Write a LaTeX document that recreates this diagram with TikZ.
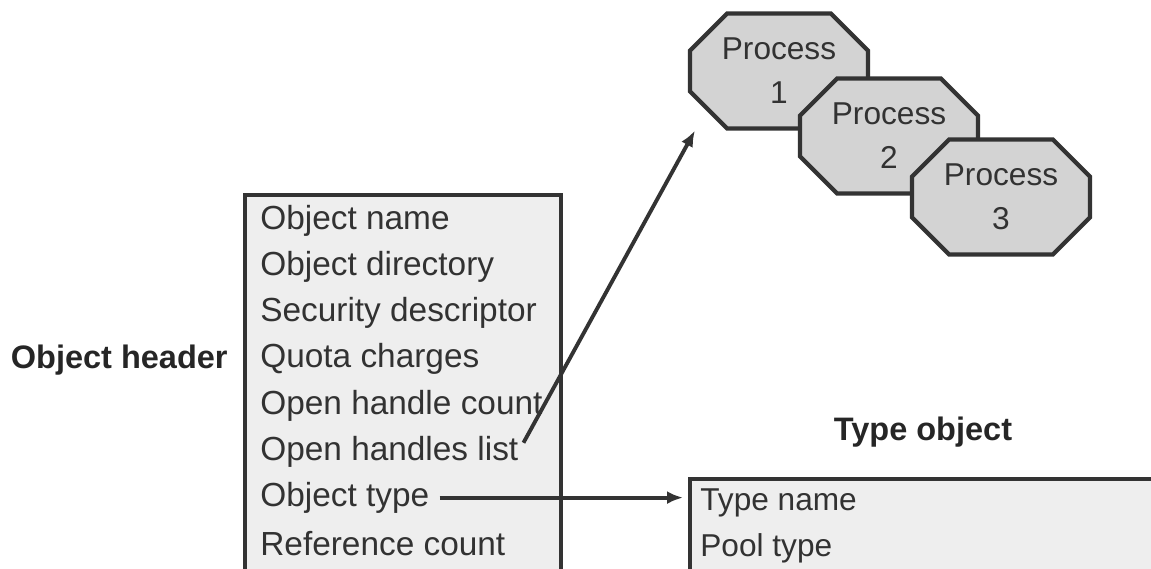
\documentclass[tikz,border=0pt]{standalone}
\usepackage{fontspec}
\setmainfont{Liberation Sans}
\usetikzlibrary{shapes.misc,arrows.meta,positioning,calc}
\definecolor{boxgray}{RGB}{238,238,238}
\definecolor{procgray}{RGB}{211,211,211}
\definecolor{edgegray}{RGB}{51,51,51}
\definecolor{textgray}{RGB}{50,50,50}

\begin{document}
\begin{tikzpicture}[
    x=0.02cm, y=-0.02cm,
    field/.style={anchor=west, inner sep=0pt, text=textgray, font=\fontsize{19}{22}\selectfont},
    panel/.style={rectangle, draw=edgegray, fill=boxgray, line width=2.4pt, anchor=north west},
    proc/.style={chamfered rectangle, chamfered rectangle xsep=0.62cm, inner xsep=0pt, draw=edgegray, fill=procgray, line width=2.4pt, minimum width=3.56cm, minimum height=2.3cm, align=center, text=textgray, font=\fontsize{18}{25}\selectfont},
    title/.style={inner sep=0pt, font=\bfseries\fontsize{18.5}{22}\selectfont, text=black!85},
    arrow/.style={-{Latex[length=0.32cm,width=0.26cm]}, line width=2.2pt, draw=edgegray}
]
    \useasboundingbox (0,0) rectangle (1151,568);
    \clip (0,0) rectangle (1151,568);

    % Object header
    \node[panel, minimum width=6.32cm, minimum height=10cm] (hbox) at (243,193) {};
    \foreach \txt/\nm [count=\i] in {Object name/oname, Object directory/odir,
        Security descriptor/sdesc, Quota charges/quota, Open handle count/hcount,
        Open handles list/hlist, Object type/otype, Reference count/rcount}
        \node[field] (\nm) at (260,{221+46.1*(\i-1)}) {\txt};
    \node[title, anchor=east] (hlabel) at (228,360) {Object header};

    % Type object
    \node[title] (tlabel) at (923,432) {Type object};
    \node[panel, minimum width=10cm, minimum height=5cm] (tbox) at (688,477) {};
    \node[field, font=\fontsize{18}{22}\selectfont] (tname) at (700,503) {Type name};
    \node[field, font=\fontsize{18}{22}\selectfont] (ptype) at (700,548) {Pool type};

    % Processes
    \node[proc] (proc1) at (779,71) {Process\\1};
    \node[proc] (proc2) at (889,136) {Process\\2};
    \node[proc] (proc3) at (1001,197) {Process\\3};

    % Edges
    \draw[arrow, shorten <=0.2cm] (hlist.east) -- ($(proc1.west |- proc1.south)+(7,0)$);
    \draw[arrow, shorten <=0.2cm, shorten >=0.1cm] (otype.east) -- (otype.east -| tbox.west);
\end{tikzpicture}
\end{document}
